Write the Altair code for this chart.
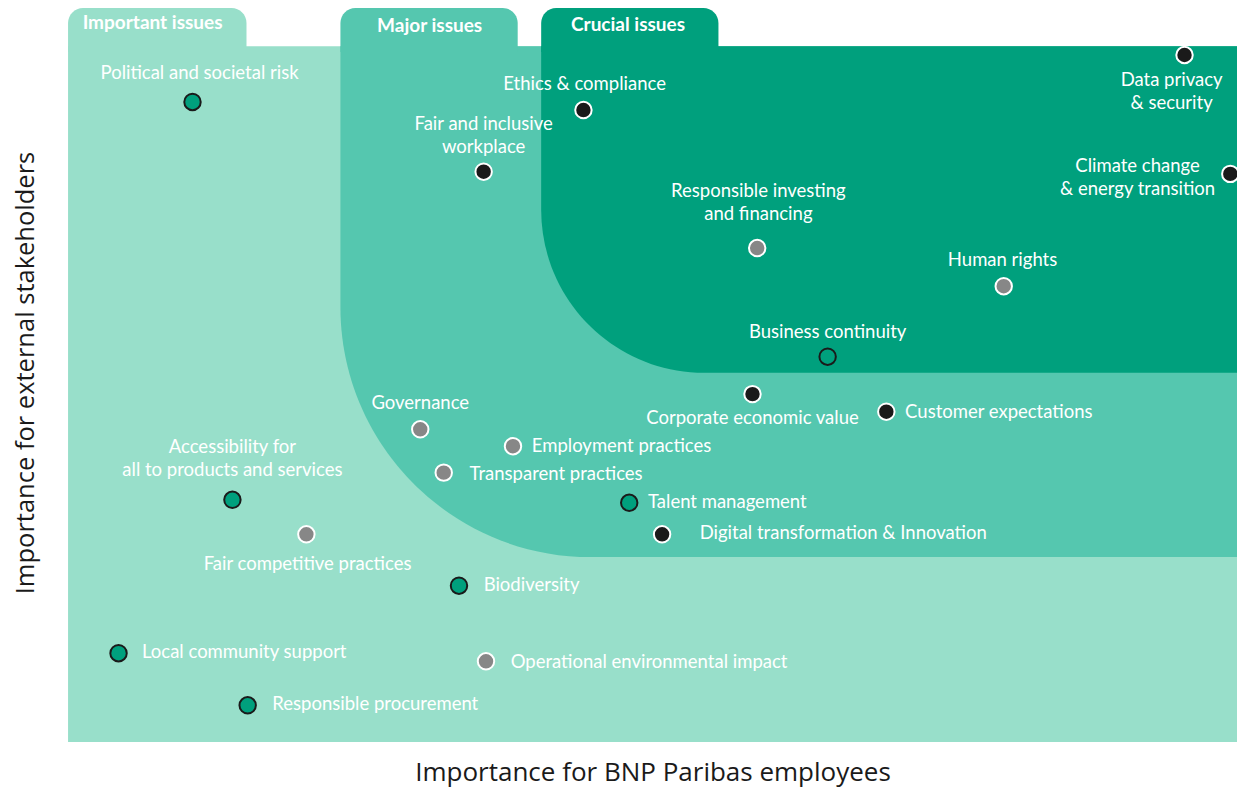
import altair as alt
import pandas as pd

# ---- issues (x: importance for employees, y: importance for external stakeholders; 0-100 scale)
issues = [
    "Political and societal risk", "Ethics & compliance", "Fair and inclusive workplace",
    "Data privacy & security", "Climate change & energy transition",
    "Responsible investing and financing", "Human rights", "Business continuity",
    "Corporate economic value", "Customer expectations", "Governance",
    "Employment practices", "Transparent practices", "Talent management",
    "Digital transformation & Innovation", "Accessibility for all to products and services",
    "Fair competitive practices", "Biodiversity", "Local community support",
    "Operational environmental impact", "Responsible procurement",
]
x_employees = [10.6, 43.9, 35.4, 95.1, 99.0, 58.7, 79.7, 64.7, 58.3, 69.7, 30.0,
               37.9, 32.0, 47.8, 50.6, 14.0, 20.3, 33.3, 4.3, 35.6, 15.3]
y_stakeholders = [87.2, 86.1, 77.7, 93.6, 77.4, 67.3, 62.1, 52.5, 47.4, 45.0, 42.6,
                  40.3, 36.7, 32.6, 28.3, 33.0, 28.3, 21.3, 12.1, 11.0, 5.0]
groups = ["green", "black", "black", "black", "black", "gray", "gray", "green",
          "black", "black", "gray", "gray", "gray", "green", "black", "green",
          "gray", "green", "green", "gray", "green"]

# ---- labels (text, anchor of first line in data units, alignment)
label_text = [
    "Political and societal risk", "Ethics & compliance", "Fair and inclusive\nworkplace",
    "Data privacy\n& security", "Climate change\n& energy transition",
    "Responsible investing\nand financing", "Human rights", "Business continuity",
    "Corporate economic value", "Customer expectations", "Governance",
    "Employment practices", "Transparent practices", "Talent management",
    "Digital transformation & Innovation", "Accessibility for\nall to products and services",
    "Fair competitive practices", "Biodiversity", "Local community support",
    "Operational environmental impact", "Responsible procurement",
]
label_x = [11.2, 44.0, 35.4, 94.0, 91.1, 58.8, 79.6, 64.7, 58.3, 71.3, 30.0,
           39.5, 34.2, 49.4, 53.8, 14.0, 20.4, 35.4, 6.3, 37.7, 17.4]
label_y = [91.1, 89.7, 84.2, 90.2, 78.5, 75.1, 65.7, 55.9, 44.1, 45.0, 46.2,
           40.3, 36.5, 32.7, 28.5, 40.2, 24.3, 21.4, 12.3, 10.9, 5.2]
label_align = ["center", "center", "center", "center", "center", "center", "center",
               "center", "center", "left", "center", "left", "left", "left", "left",
               "center", "center", "left", "left", "left", "left"]

# ---- background zones
zone_names = ["Important", "Major", "Crucial"]
zone_x0 = [0.0, 23.2, 40.3]
zone_x1 = [100.0, 100.0, 100.0]
zone_y0 = [0.0, 25.2, 50.3]
zone_y1 = [94.8, 94.8, 94.8]
tab_x1 = [15.2, 38.3, 55.4]
tab_y0 = [94.0, 94.0, 94.0]
tab_y1 = [100.0, 100.0, 100.0]
tab_titles = ["Important issues", "Major issues", "Crucial issues"]
tab_title_x = [7.2, 30.8, 47.7]
tab_title_y = [97.9, 97.6, 97.7]
zone_colors = ["#98dfca", "#55c7af", "#00a07d"]

x_title = "Importance for BNP Paribas employees"
y_title = "Importance for external stakeholders"

W, H = 1172, 733
xs = alt.Scale(domain=[-0.26, 99.57], nice=False, zero=False)
ys = alt.Scale(domain=[0.14, 100], nice=False, zero=False)
zone_scale = alt.Scale(domain=zone_names, range=zone_colors)

zones = pd.DataFrame({"zone": zone_names, "x0": zone_x0, "x1": zone_x1,
                      "y0": zone_y0, "y1": zone_y1, "tx1": tab_x1,
                      "ty0": tab_y0, "ty1": tab_y1, "title": tab_titles,
                      "tx": tab_title_x, "ty": tab_title_y})

def zone_rect(name, radius):
    kw = {"cornerRadiusBottomLeft": radius} if radius else {}
    return alt.Chart(zones[zones["zone"] == name]).mark_rect(**kw).encode(
        x=alt.X("x0:Q", scale=xs, axis=None), x2="x1:Q",
        y=alt.Y("y0:Q", scale=ys, axis=None), y2="y1:Q",
        color=alt.Color("zone:N", scale=zone_scale, legend=None),
    )

light = zone_rect("Important", 0)
medium = zone_rect("Major", 250)
dark = zone_rect("Crucial", 163)

tabs = alt.Chart(zones).mark_rect(cornerRadiusTopLeft=15, cornerRadiusTopRight=15).encode(
    x=alt.X("x0:Q", scale=xs, axis=None), x2="tx1:Q",
    y=alt.Y("ty0:Q", scale=ys, axis=None), y2="ty1:Q",
    color=alt.Color("zone:N", scale=zone_scale, legend=None),
)
tab_text = alt.Chart(zones).mark_text(font="Lato", fontSize=19, fontWeight="bold",
                                      color="white", align="center", baseline="middle").encode(
    x=alt.X("tx:Q", scale=xs, axis=None), y=alt.Y("ty:Q", scale=ys, axis=None), text="title:N")

pts = pd.DataFrame({"issue": issues, "x": x_employees, "y": y_stakeholders, "group": groups})
points = alt.Chart(pts).mark_circle(size=270, opacity=1, strokeWidth=2).encode(
    x=alt.X("x:Q", scale=xs, axis=None),
    y=alt.Y("y:Q", scale=ys, axis=None),
    fill=alt.Fill("group:N", scale=alt.Scale(domain=["green", "gray", "black"],
                                              range=["#00a07d", "#878787", "#1a1a1a"]), legend=None),
    stroke=alt.Stroke("group:N", scale=alt.Scale(domain=["green", "gray", "black"],
                                                  range=["#1a1a1a", "#ffffff", "#ffffff"]), legend=None),
)

labs = pd.DataFrame({"text": label_text, "x": label_x, "y": label_y, "anchor": label_align})
label_layers = []
for al in ["center", "left"]:
    label_layers.append(
        alt.Chart(labs[labs["anchor"] == al]).mark_text(
            font="Lato", fontSize=18.5, color="white", align=al, baseline="middle",
            lineBreak="\n", lineHeight=23).encode(
            x=alt.X("x:Q", scale=xs, axis=None), y=alt.Y("y:Q", scale=ys, axis=None),
            text="text:N")
    )

titles = pd.DataFrame({"t": [x_title]})
xt = alt.Chart(titles).mark_text(font="Open Sans", fontSize=26, color="#1a1a1a",
                                 align="center", baseline="alphabetic").encode(
    text="t:N", x=alt.value(588), y=alt.value(773))
yt = alt.Chart(pd.DataFrame({"t": [y_title]})).mark_text(
    font="Open Sans", fontSize=25.5, color="#1a1a1a", align="center", baseline="middle",
    angle=270).encode(text="t:N", x=alt.value(-39), y=alt.value(365))

chart = alt.layer(light, medium, dark, tabs, tab_text, points, *label_layers, xt, yt).properties(
    width=W, height=H,
    padding={"left": 57, "top": 0, "right": 0, "bottom": 47},
    autosize=alt.AutoSizeParams(type="none"),
).configure_view(stroke=None)

chart.save("out.html", embed_options={"renderer": "svg", "actions": False})
